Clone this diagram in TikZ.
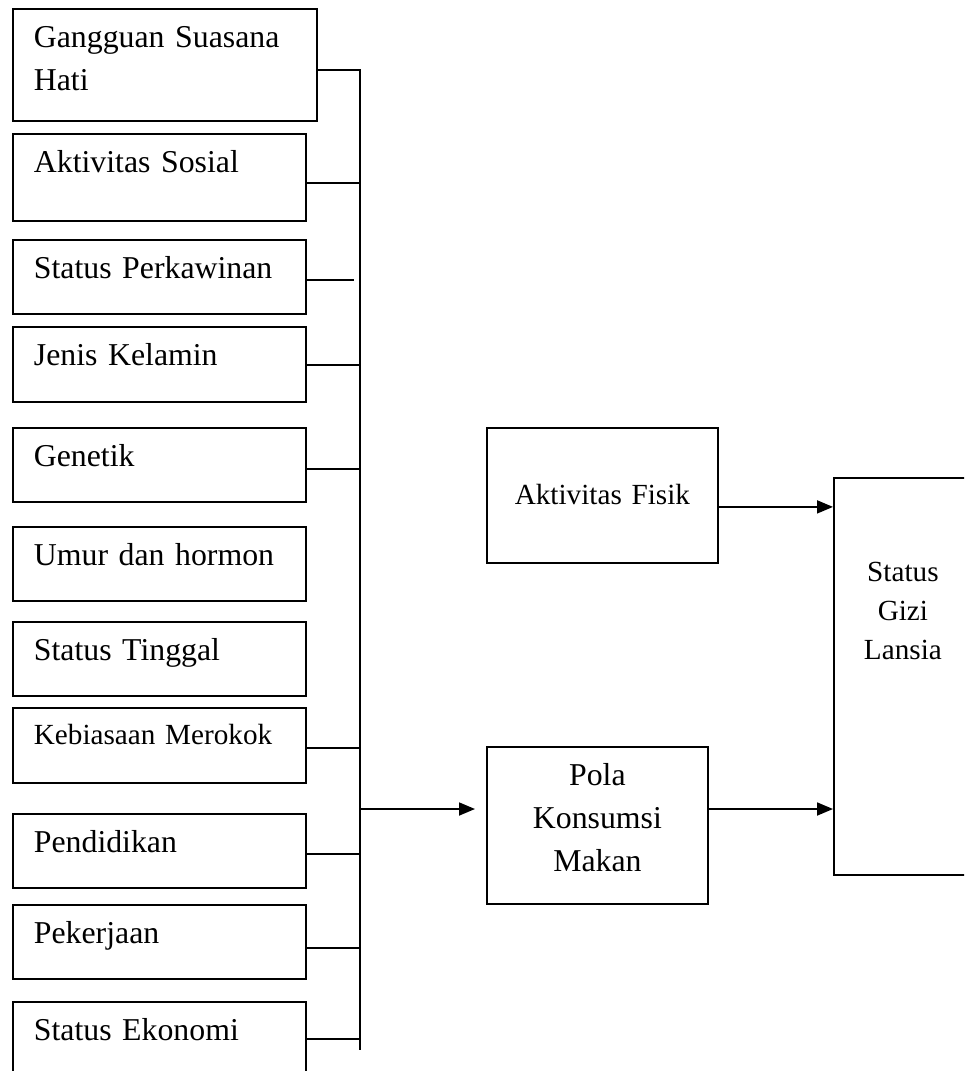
\documentclass[tikz,border=0pt]{standalone}
\usepackage{fontspec}
\setmainfont{Liberation Serif}
\usetikzlibrary{arrows.meta}

\begin{document}
\begin{tikzpicture}[
  x=0.5pt, y=-0.5pt,
  bigtext/.style={font=\fontsize{15.9pt}{21.5pt}\selectfont},
  smalltext/.style={font=\fontsize{14.6pt}{19.5pt}\selectfont},
  factor/.style={draw, line width=0.9pt, anchor=north west, inner xsep=10.5pt,
                 inner ysep=0pt, text width=125.5pt, align=left,
                 text height=19.5pt, text depth=#1, bigtext},
  block/.style={draw, line width=0.9pt, anchor=north west, inner sep=0pt, align=center},
  link/.style={line width=0.7pt},
  arrow/.style={-{Triangle[length=8pt,width=6.5pt]}, line width=0.9pt}
]
\useasboundingbox (0,0) rectangle (964,1071);
\clip (0,0) rectangle (964,1071);

% faktor-faktor
\node[factor=36.5pt, text width=131pt] (f1) at (12,8) {Gangguan Suasana\\Hati};
\node[factor=24pt] (f2) at (12,133) {Aktivitas Sosial};
\node[factor=17.5pt] (f3) at (12,239) {Status Perkawinan};
\node[factor=18pt] (f4) at (12,326) {Jenis Kelamin};
\node[factor=17.5pt] (f5) at (12,427) {Genetik};
\node[factor=17.5pt] (f6) at (12,526) {Umur dan hormon};
\node[factor=17.5pt] (f7) at (12,621) {Status Tinggal};
\node[factor=19pt, smalltext, text height=18.5pt] (f8) at (12,707) {Kebiasaan Merokok};
\node[factor=17.5pt] (f9) at (12,813) {Pendidikan};
\node[factor=17.5pt] (f10) at (12,904) {Pekerjaan};
\node[factor=17.5pt] (f11) at (12,1001) {Status Ekonomi};

% kanan
\node[block, smalltext, text width=115.5pt, text height=38.5pt, text depth=29pt]
  (fisik) at (486,427) {Aktivitas Fisik};
\node[block, bigtext, text width=110.5pt, text height=19.5pt, text depth=59pt]
  (pola) at (486,746) {Pola\\Konsumsi\\Makan};
\node[block, smalltext, text width=69pt, text height=52pt, text depth=146.5pt]
  (gizi) at (833,477) {Status\\Gizi\\Lansia};

% garis pengumpul
\coordinate (b1) at (360,70);
\coordinate (b2) at (360,183);
\coordinate (b3) at (354,280);
\coordinate (b4) at (360,365);
\coordinate (b5) at (360,469);
\coordinate (b8) at (360,748);
\coordinate (bout) at (360,809);
\coordinate (b9) at (360,854);
\coordinate (b10) at (360,948);
\coordinate (b11) at (360,1039);
\coordinate (bend) at (360,1050);

\draw[line width=0.9pt] (f1.east |- b1) -- (b1) -- (bend);
\draw[link] (f2.east |- b2) -- (b2);
\draw[link] (f3.east |- b3) -- (b3);
\draw[link] (f4.east |- b4) -- (b4);
\draw[link] (f5.east |- b5) -- (b5);
\draw[link] (f8.east |- b8) -- (b8);
\draw[link] (f9.east |- b9) -- (b9);
\draw[link] (f10.east |- b10) -- (b10);
\draw[link] (f11.east |- b11) -- (b11);

\draw[arrow, shorten >=5.5pt] (bout) -- (pola.west |- bout);
\draw[arrow] (pola.east |- bout) -- (gizi.west |- bout);
\draw[arrow] ([yshift=-5.75pt]fisik.east) -- ([yshift=-5.75pt]fisik.east -| gizi.west);
\end{tikzpicture}
\end{document}
